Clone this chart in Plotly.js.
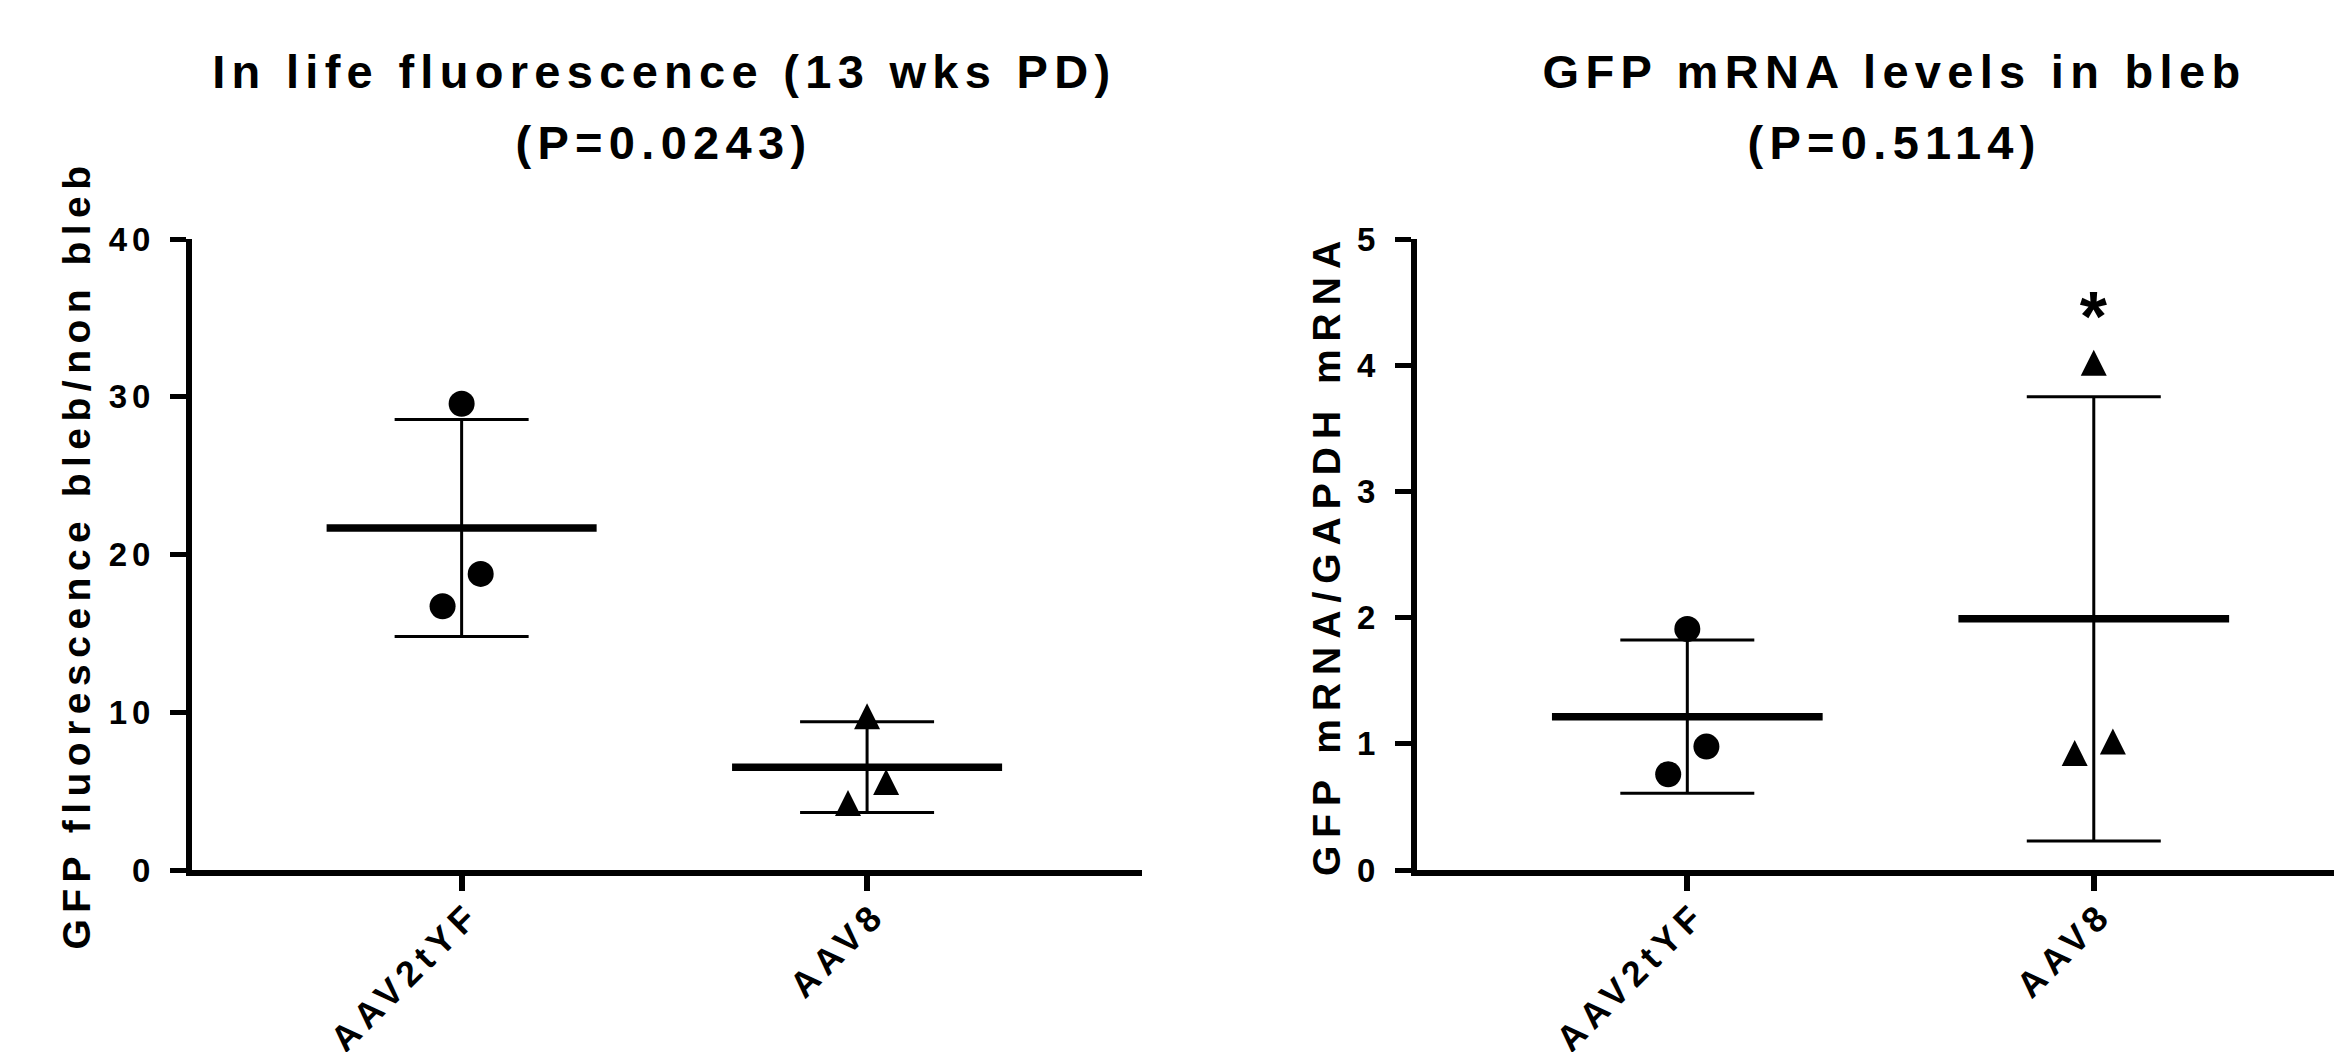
<!DOCTYPE html>
<html><head><meta charset="utf-8">
<script src="https://cdn.plot.ly/plotly-3.0.1.min.js"></script>
<style>
html,body{margin:0;padding:0;background:#fff}
#chart{width:2334px;height:1052px}
#chart .annotation-text{letter-spacing:6.3px !important}
#chart .g-ytitle text{letter-spacing:6.5px !important}
#chart .g-y2title text{letter-spacing:8px !important}
#chart .xtick text,#chart .x2tick text{letter-spacing:6px !important}
#chart .ytick text,#chart .y2tick text{letter-spacing:5px !important}
</style></head><body><div id="chart"></div>
<script>
// ---- data ----
const categories = ['AAV2tYF', 'AAV8'];

// Panel 1: In life fluorescence (13 wks PD)
const fluorAAV2tYF = [29.56, 18.77, 16.72];
const fluorAAV8 = [9.74, 5.58, 4.25];
const fluorMean = [21.68, 6.52];
const fluorSD = [6.88, 2.87];
const fluorTicks = [0, 10, 20, 30, 40];

// Panel 2: GFP mRNA levels in bleb
const mrnaAAV2tYF = [1.91, 0.978, 0.759];
const mrnaAAV8 = [4.02, 1.019, 0.927];
const mrnaMean = [1.215, 1.99];
const mrnaSD = [0.607, 1.76];
const mrnaTicks = [0, 1, 2, 3, 4, 5];
const mrnaSignif = {category: 1, y: 4.49, text: '*'};

const panelTitles = ['In life fluorescence (13 wks PD)', 'GFP mRNA levels in bleb'];
const panelPvalues = ['(P=0.0243)', '(P=0.5114)'];
const yTitles = ['GFP fluorescence bleb/non bleb', 'GFP mRNA/GAPDH mRNA'];

// ---- styling ----
const FONT = 'Liberation Sans, Arial, Helvetica, sans-serif';
const jitter = [0, 0.047, -0.047];
const meanHalf = 0.333;
const idx = categories.map((c, i) => i);

function panelTraces(groupA, groupB, means, sds, xa, ya) {
  const t = [];
  t.push({
    type: 'scatter', mode: 'markers', x: idx, y: means, xaxis: xa, yaxis: ya,
    marker: {size: 1, opacity: 0}, hoverinfo: 'skip', showlegend: false,
    error_y: {type: 'data', array: sds, visible: true, color: '#000', thickness: 3, width: 67}
  });
  const mx = [], my = [];
  idx.forEach(i => { mx.push(i - meanHalf, i + meanHalf, null); my.push(means[i], means[i], null); });
  t.push({type: 'scatter', mode: 'lines', x: mx, y: my, xaxis: xa, yaxis: ya,
    line: {color: '#000', width: 7.5}, showlegend: false, hoverinfo: 'skip'});
  t.push({type: 'scatter', mode: 'markers', x: groupA.map((v, k) => 0 + jitter[k]), y: groupA,
    xaxis: xa, yaxis: ya, showlegend: false, cliponaxis: false,
    marker: {symbol: 'circle', size: 26, color: '#000'}});
  t.push({type: 'scatter', mode: 'markers', x: groupB.map((v, k) => 1 + jitter[k]), y: groupB,
    xaxis: xa, yaxis: ya, showlegend: false, cliponaxis: false,
    marker: {symbol: 'arrow-down', angle: 180, standoff: 13, size: 26, color: '#000'}});
  return t;
}

const traces = [
  ...panelTraces(fluorAAV2tYF, fluorAAV8, fluorMean, fluorSD, 'x', 'y'),
  ...panelTraces(mrnaAAV2tYF, mrnaAAV8, mrnaMean, mrnaSD, 'x2', 'y2')
];

const yTickFont = {family: FONT, size: 33, color: '#000', weight: 700};
const xTickFont = {family: FONT, size: 36, color: '#000', weight: 700};
function xAxis(domain, range, anchor) {
  return {domain, range, anchor, tickmode: 'array', tickvals: idx, ticktext: categories,
    tickangle: -45, ticks: 'outside', ticklen: 15, tickwidth: 6, tickcolor: '#000',
    showline: true, linewidth: 6, linecolor: '#000', showgrid: false, zeroline: false,
    tickfont: xTickFont, ticklabelstandoff: -12, ticklabelshift: 8, fixedrange: true};
}
function yAxis(range, ticks, title, anchor, size, standoff) {
  return {domain: [0, 1], range, anchor, tickmode: 'array', tickvals: ticks,
    ticks: 'outside', ticklen: 16, tickwidth: 5, tickcolor: '#000',
    showline: true, linewidth: 6, linecolor: '#000', showgrid: false, zeroline: false,
    tickfont: yTickFont, ticklabelstandoff: 8,
    title: {text: title, font: {family: FONT, size: size, color: '#000', weight: 700}, standoff},
    fixedrange: true};
}

const titleFont = {family: FONT, size: 47, color: '#000', weight: 700};
const titleX = [0.2204, 0.7946];
const annotations = [];
[0, 1].forEach(p => {
  annotations.push({xref: 'paper', yref: 'paper', x: titleX[p], y: 1.2647, text: panelTitles[p],
    showarrow: false, font: titleFont, xanchor: 'center', yanchor: 'middle'});
  annotations.push({xref: 'paper', yref: 'paper', x: titleX[p], y: 1.1529, text: panelPvalues[p],
    showarrow: false, font: titleFont, xanchor: 'center', yanchor: 'middle'});
});
annotations.push({xref: 'x2', yref: 'y2', x: mrnaSignif.category, y: mrnaSignif.y, text: mrnaSignif.text,
  showarrow: false, font: {family: FONT, size: 70, color: '#000', weight: 700}, yshift: -14, xshift: 3});

const layout = {
  width: 2334, height: 1052,
  margin: {l: 192, r: 0, t: 239, b: 182, pad: 0},
  paper_bgcolor: '#fff', plot_bgcolor: '#fff',
  showlegend: false,
  xaxis: xAxis([0, 0.4435], [-0.665, 1.678], 'y'),
  yaxis: yAxis([0, 40], fluorTicks, yTitles[0], 'x', 39, 18),
  xaxis2: xAxis([0.5719, 1], [-0.665, 1.591], 'y2'),
  yaxis2: yAxis([0, 5], mrnaTicks, yTitles[1], 'x2', 39, 11),
  annotations
};

Plotly.newPlot('chart', traces, layout, {staticPlot: true, displayModeBar: false});
</script></body></html>
